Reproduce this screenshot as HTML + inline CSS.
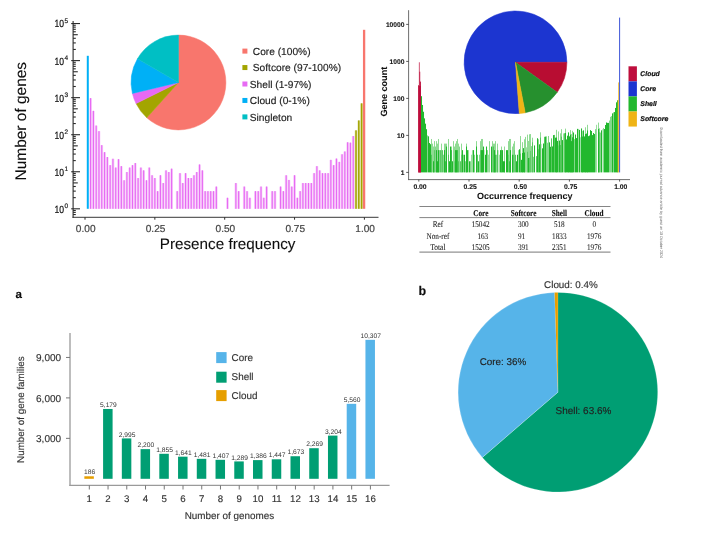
<!DOCTYPE html>
<html lang="en">
<head>
<meta charset="utf-8">
<title>Pan-genome gene frequency figures</title>
<style>
html,body{margin:0;padding:0;background:#fff;}
body{width:714px;height:535px;overflow:hidden;}
svg{display:block;font-family:'Liberation Sans', sans-serif;text-rendering:geometricPrecision;}
</style>
</head>
<body>
<svg width="714" height="535" viewBox="0 0 714 535">
<defs>
<filter id="b2" x="-5%" y="-5%" width="110%" height="110%"><feGaussianBlur stdDeviation="0.35"/></filter>
<filter id="ball" x="0" y="0" width="714" height="535" filterUnits="userSpaceOnUse"><feGaussianBlur stdDeviation="0.35"/></filter>
</defs>
<rect x="0" y="0" width="714" height="535" fill="#ffffff"/>
<g filter="url(#ball)">
<g id="c1">
<rect x="86.79" y="55.8" width="2" height="153" fill="#00B0F6"/>
<rect x="89.24" y="98.3" width="2.7" height="110.5" fill="#E76BF3" opacity="0.3"/>
<rect x="89.99" y="98.1" width="1.2" height="110.7" fill="#E76BF3"/>
<rect x="92.03" y="111" width="2.7" height="97.8" fill="#E76BF3" opacity="0.3"/>
<rect x="92.78" y="110.8" width="1.2" height="98" fill="#E76BF3"/>
<rect x="94.83" y="125.7" width="2.7" height="83.1" fill="#E76BF3" opacity="0.3"/>
<rect x="95.58" y="125.5" width="1.2" height="83.3" fill="#E76BF3"/>
<rect x="97.62" y="131.3" width="2.7" height="77.5" fill="#E76BF3" opacity="0.3"/>
<rect x="98.37" y="131.1" width="1.2" height="77.7" fill="#E76BF3"/>
<rect x="100.41" y="145.3" width="2.7" height="63.5" fill="#E76BF3" opacity="0.3"/>
<rect x="101.16" y="145.1" width="1.2" height="63.7" fill="#E76BF3"/>
<rect x="103.21" y="152.3" width="2.7" height="56.5" fill="#E76BF3" opacity="0.3"/>
<rect x="103.96" y="152.1" width="1.2" height="56.7" fill="#E76BF3"/>
<rect x="106" y="157.2" width="2.7" height="51.6" fill="#E76BF3" opacity="0.3"/>
<rect x="106.75" y="157" width="1.2" height="51.8" fill="#E76BF3"/>
<rect x="108.8" y="165.3" width="2.7" height="43.5" fill="#E76BF3" opacity="0.3"/>
<rect x="109.55" y="165.1" width="1.2" height="43.7" fill="#E76BF3"/>
<rect x="111.59" y="158.9" width="2.7" height="49.9" fill="#E76BF3" opacity="0.3"/>
<rect x="112.34" y="158.7" width="1.2" height="50.1" fill="#E76BF3"/>
<rect x="114.38" y="167.7" width="2.7" height="41.1" fill="#E76BF3" opacity="0.3"/>
<rect x="115.13" y="167.5" width="1.2" height="41.3" fill="#E76BF3"/>
<rect x="117.18" y="159.3" width="2.7" height="49.5" fill="#E76BF3" opacity="0.3"/>
<rect x="117.93" y="159.1" width="1.2" height="49.7" fill="#E76BF3"/>
<rect x="119.97" y="166.3" width="2.7" height="42.5" fill="#E76BF3" opacity="0.3"/>
<rect x="120.72" y="166.1" width="1.2" height="42.7" fill="#E76BF3"/>
<rect x="122.77" y="180.4" width="2.7" height="28.4" fill="#E76BF3" opacity="0.3"/>
<rect x="123.52" y="180.2" width="1.2" height="28.6" fill="#E76BF3"/>
<rect x="125.56" y="172.2" width="2.7" height="36.6" fill="#E76BF3" opacity="0.3"/>
<rect x="126.31" y="172" width="1.2" height="36.8" fill="#E76BF3"/>
<rect x="128.35" y="167.7" width="2.7" height="41.1" fill="#E76BF3" opacity="0.3"/>
<rect x="129.1" y="167.5" width="1.2" height="41.3" fill="#E76BF3"/>
<rect x="131.15" y="165.3" width="2.7" height="43.5" fill="#E76BF3" opacity="0.3"/>
<rect x="131.9" y="165.1" width="1.2" height="43.7" fill="#E76BF3"/>
<rect x="133.94" y="163.2" width="2.7" height="45.6" fill="#E76BF3" opacity="0.3"/>
<rect x="134.69" y="163" width="1.2" height="45.8" fill="#E76BF3"/>
<rect x="136.74" y="178.2" width="2.7" height="30.6" fill="#E76BF3" opacity="0.3"/>
<rect x="137.49" y="178" width="1.2" height="30.8" fill="#E76BF3"/>
<rect x="139.53" y="167.7" width="2.7" height="41.1" fill="#E76BF3" opacity="0.3"/>
<rect x="140.28" y="167.5" width="1.2" height="41.3" fill="#E76BF3"/>
<rect x="142.32" y="170.5" width="2.7" height="38.3" fill="#E76BF3" opacity="0.3"/>
<rect x="143.07" y="170.3" width="1.2" height="38.5" fill="#E76BF3"/>
<rect x="145.12" y="180.4" width="2.7" height="28.4" fill="#E76BF3" opacity="0.3"/>
<rect x="145.87" y="180.2" width="1.2" height="28.6" fill="#E76BF3"/>
<rect x="147.91" y="167.7" width="2.7" height="41.1" fill="#E76BF3" opacity="0.3"/>
<rect x="148.66" y="167.5" width="1.2" height="41.3" fill="#E76BF3"/>
<rect x="150.71" y="175.4" width="2.7" height="33.4" fill="#E76BF3" opacity="0.3"/>
<rect x="151.46" y="175.2" width="1.2" height="33.6" fill="#E76BF3"/>
<rect x="153.5" y="178.2" width="2.7" height="30.6" fill="#E76BF3" opacity="0.3"/>
<rect x="154.25" y="178" width="1.2" height="30.8" fill="#E76BF3"/>
<rect x="156.29" y="191.3" width="2.7" height="17.5" fill="#E76BF3" opacity="0.3"/>
<rect x="157.04" y="191.1" width="1.2" height="17.7" fill="#E76BF3"/>
<rect x="159.09" y="175.4" width="2.7" height="33.4" fill="#E76BF3" opacity="0.3"/>
<rect x="159.84" y="175.2" width="1.2" height="33.6" fill="#E76BF3"/>
<rect x="161.88" y="183.2" width="2.7" height="25.6" fill="#E76BF3" opacity="0.3"/>
<rect x="162.63" y="183" width="1.2" height="25.8" fill="#E76BF3"/>
<rect x="164.68" y="170.5" width="2.7" height="38.3" fill="#E76BF3" opacity="0.3"/>
<rect x="165.43" y="170.3" width="1.2" height="38.5" fill="#E76BF3"/>
<rect x="167.47" y="172.2" width="2.7" height="36.6" fill="#E76BF3" opacity="0.3"/>
<rect x="168.22" y="172" width="1.2" height="36.8" fill="#E76BF3"/>
<rect x="170.26" y="168.8" width="2.7" height="40" fill="#E76BF3" opacity="0.3"/>
<rect x="171.01" y="168.6" width="1.2" height="40.2" fill="#E76BF3"/>
<rect x="175.85" y="191.3" width="2.7" height="17.5" fill="#E76BF3" opacity="0.3"/>
<rect x="176.6" y="191.1" width="1.2" height="17.7" fill="#E76BF3"/>
<rect x="178.65" y="173.3" width="2.7" height="35.5" fill="#E76BF3" opacity="0.3"/>
<rect x="179.4" y="173.1" width="1.2" height="35.7" fill="#E76BF3"/>
<rect x="181.44" y="183.2" width="2.7" height="25.6" fill="#E76BF3" opacity="0.3"/>
<rect x="182.19" y="183" width="1.2" height="25.8" fill="#E76BF3"/>
<rect x="184.23" y="173.3" width="2.7" height="35.5" fill="#E76BF3" opacity="0.3"/>
<rect x="184.98" y="173.1" width="1.2" height="35.7" fill="#E76BF3"/>
<rect x="187.03" y="178.2" width="2.7" height="30.6" fill="#E76BF3" opacity="0.3"/>
<rect x="187.78" y="178" width="1.2" height="30.8" fill="#E76BF3"/>
<rect x="189.82" y="178.2" width="2.7" height="30.6" fill="#E76BF3" opacity="0.3"/>
<rect x="190.57" y="178" width="1.2" height="30.8" fill="#E76BF3"/>
<rect x="192.62" y="175.4" width="2.7" height="33.4" fill="#E76BF3" opacity="0.3"/>
<rect x="193.37" y="175.2" width="1.2" height="33.6" fill="#E76BF3"/>
<rect x="195.41" y="172.2" width="2.7" height="36.6" fill="#E76BF3" opacity="0.3"/>
<rect x="196.16" y="172" width="1.2" height="36.8" fill="#E76BF3"/>
<rect x="198.2" y="164.6" width="2.7" height="44.2" fill="#E76BF3" opacity="0.3"/>
<rect x="198.95" y="164.4" width="1.2" height="44.4" fill="#E76BF3"/>
<rect x="201" y="170.5" width="2.7" height="38.3" fill="#E76BF3" opacity="0.3"/>
<rect x="201.75" y="170.3" width="1.2" height="38.5" fill="#E76BF3"/>
<rect x="203.79" y="191.3" width="2.7" height="17.5" fill="#E76BF3" opacity="0.3"/>
<rect x="204.54" y="191.1" width="1.2" height="17.7" fill="#E76BF3"/>
<rect x="206.59" y="191.3" width="2.7" height="17.5" fill="#E76BF3" opacity="0.3"/>
<rect x="207.34" y="191.1" width="1.2" height="17.7" fill="#E76BF3"/>
<rect x="209.38" y="191.3" width="2.7" height="17.5" fill="#E76BF3" opacity="0.3"/>
<rect x="210.13" y="191.1" width="1.2" height="17.7" fill="#E76BF3"/>
<rect x="212.17" y="191.3" width="2.7" height="17.5" fill="#E76BF3" opacity="0.3"/>
<rect x="212.92" y="191.1" width="1.2" height="17.7" fill="#E76BF3"/>
<rect x="214.97" y="186.7" width="2.7" height="22.1" fill="#E76BF3" opacity="0.3"/>
<rect x="215.72" y="186.5" width="1.2" height="22.3" fill="#E76BF3"/>
<rect x="226.14" y="197.9" width="2.7" height="10.9" fill="#E76BF3" opacity="0.3"/>
<rect x="226.89" y="197.7" width="1.2" height="11.1" fill="#E76BF3"/>
<rect x="234.53" y="183.2" width="2.7" height="25.6" fill="#E76BF3" opacity="0.3"/>
<rect x="235.28" y="183" width="1.2" height="25.8" fill="#E76BF3"/>
<rect x="237.32" y="191.3" width="2.7" height="17.5" fill="#E76BF3" opacity="0.3"/>
<rect x="238.07" y="191.1" width="1.2" height="17.7" fill="#E76BF3"/>
<rect x="242.91" y="186.7" width="2.7" height="22.1" fill="#E76BF3" opacity="0.3"/>
<rect x="243.66" y="186.5" width="1.2" height="22.3" fill="#E76BF3"/>
<rect x="245.7" y="191.3" width="2.7" height="17.5" fill="#E76BF3" opacity="0.3"/>
<rect x="246.45" y="191.1" width="1.2" height="17.7" fill="#E76BF3"/>
<rect x="248.5" y="197.9" width="2.7" height="10.9" fill="#E76BF3" opacity="0.3"/>
<rect x="249.25" y="197.7" width="1.2" height="11.1" fill="#E76BF3"/>
<rect x="254.08" y="191.3" width="2.7" height="17.5" fill="#E76BF3" opacity="0.3"/>
<rect x="254.83" y="191.1" width="1.2" height="17.7" fill="#E76BF3"/>
<rect x="256.88" y="191.3" width="2.7" height="17.5" fill="#E76BF3" opacity="0.3"/>
<rect x="257.63" y="191.1" width="1.2" height="17.7" fill="#E76BF3"/>
<rect x="259.67" y="186.7" width="2.7" height="22.1" fill="#E76BF3" opacity="0.3"/>
<rect x="260.42" y="186.5" width="1.2" height="22.3" fill="#E76BF3"/>
<rect x="262.47" y="197.9" width="2.7" height="10.9" fill="#E76BF3" opacity="0.3"/>
<rect x="263.22" y="197.7" width="1.2" height="11.1" fill="#E76BF3"/>
<rect x="265.26" y="186.7" width="2.7" height="22.1" fill="#E76BF3" opacity="0.3"/>
<rect x="266.01" y="186.5" width="1.2" height="22.3" fill="#E76BF3"/>
<rect x="270.85" y="191.3" width="2.7" height="17.5" fill="#E76BF3" opacity="0.3"/>
<rect x="271.6" y="191.1" width="1.2" height="17.7" fill="#E76BF3"/>
<rect x="273.64" y="191.3" width="2.7" height="17.5" fill="#E76BF3" opacity="0.3"/>
<rect x="274.39" y="191.1" width="1.2" height="17.7" fill="#E76BF3"/>
<rect x="279.23" y="186.7" width="2.7" height="22.1" fill="#E76BF3" opacity="0.3"/>
<rect x="279.98" y="186.5" width="1.2" height="22.3" fill="#E76BF3"/>
<rect x="282.02" y="191.3" width="2.7" height="17.5" fill="#E76BF3" opacity="0.3"/>
<rect x="282.77" y="191.1" width="1.2" height="17.7" fill="#E76BF3"/>
<rect x="284.82" y="175.4" width="2.7" height="33.4" fill="#E76BF3" opacity="0.3"/>
<rect x="285.57" y="175.2" width="1.2" height="33.6" fill="#E76BF3"/>
<rect x="287.61" y="180.1" width="2.7" height="28.7" fill="#E76BF3" opacity="0.3"/>
<rect x="288.36" y="179.9" width="1.2" height="28.9" fill="#E76BF3"/>
<rect x="290.41" y="186.7" width="2.7" height="22.1" fill="#E76BF3" opacity="0.3"/>
<rect x="291.16" y="186.5" width="1.2" height="22.3" fill="#E76BF3"/>
<rect x="293.2" y="175.4" width="2.7" height="33.4" fill="#E76BF3" opacity="0.3"/>
<rect x="293.95" y="175.2" width="1.2" height="33.6" fill="#E76BF3"/>
<rect x="295.99" y="197.9" width="2.7" height="10.9" fill="#E76BF3" opacity="0.3"/>
<rect x="296.74" y="197.7" width="1.2" height="11.1" fill="#E76BF3"/>
<rect x="298.79" y="191.3" width="2.7" height="17.5" fill="#E76BF3" opacity="0.3"/>
<rect x="299.54" y="191.1" width="1.2" height="17.7" fill="#E76BF3"/>
<rect x="301.58" y="183.2" width="2.7" height="25.6" fill="#E76BF3" opacity="0.3"/>
<rect x="302.33" y="183" width="1.2" height="25.8" fill="#E76BF3"/>
<rect x="304.38" y="183.2" width="2.7" height="25.6" fill="#E76BF3" opacity="0.3"/>
<rect x="305.13" y="183" width="1.2" height="25.8" fill="#E76BF3"/>
<rect x="307.17" y="183.2" width="2.7" height="25.6" fill="#E76BF3" opacity="0.3"/>
<rect x="307.92" y="183" width="1.2" height="25.8" fill="#E76BF3"/>
<rect x="309.96" y="183.2" width="2.7" height="25.6" fill="#E76BF3" opacity="0.3"/>
<rect x="310.71" y="183" width="1.2" height="25.8" fill="#E76BF3"/>
<rect x="312.76" y="173.3" width="2.7" height="35.5" fill="#E76BF3" opacity="0.3"/>
<rect x="313.51" y="173.1" width="1.2" height="35.7" fill="#E76BF3"/>
<rect x="315.55" y="166.3" width="2.7" height="42.5" fill="#E76BF3" opacity="0.3"/>
<rect x="316.3" y="166.1" width="1.2" height="42.7" fill="#E76BF3"/>
<rect x="318.35" y="170.5" width="2.7" height="38.3" fill="#E76BF3" opacity="0.3"/>
<rect x="319.1" y="170.3" width="1.2" height="38.5" fill="#E76BF3"/>
<rect x="321.14" y="173.3" width="2.7" height="35.5" fill="#E76BF3" opacity="0.3"/>
<rect x="321.89" y="173.1" width="1.2" height="35.7" fill="#E76BF3"/>
<rect x="323.93" y="173.3" width="2.7" height="35.5" fill="#E76BF3" opacity="0.3"/>
<rect x="324.68" y="173.1" width="1.2" height="35.7" fill="#E76BF3"/>
<rect x="326.73" y="173.3" width="2.7" height="35.5" fill="#E76BF3" opacity="0.3"/>
<rect x="327.48" y="173.1" width="1.2" height="35.7" fill="#E76BF3"/>
<rect x="329.52" y="160" width="2.7" height="48.8" fill="#E76BF3" opacity="0.3"/>
<rect x="330.27" y="159.8" width="1.2" height="49" fill="#E76BF3"/>
<rect x="332.32" y="165.3" width="2.7" height="43.5" fill="#E76BF3" opacity="0.3"/>
<rect x="333.07" y="165.1" width="1.2" height="43.7" fill="#E76BF3"/>
<rect x="335.11" y="158.7" width="2.7" height="50.1" fill="#E76BF3" opacity="0.3"/>
<rect x="335.86" y="158.5" width="1.2" height="50.3" fill="#E76BF3"/>
<rect x="337.9" y="162" width="2.7" height="46.8" fill="#E76BF3" opacity="0.3"/>
<rect x="338.65" y="161.8" width="1.2" height="47" fill="#E76BF3"/>
<rect x="340.7" y="154.4" width="2.7" height="54.4" fill="#E76BF3" opacity="0.3"/>
<rect x="341.45" y="154.2" width="1.2" height="54.6" fill="#E76BF3"/>
<rect x="343.49" y="151.6" width="2.7" height="57.2" fill="#E76BF3" opacity="0.3"/>
<rect x="344.24" y="151.4" width="1.2" height="57.4" fill="#E76BF3"/>
<rect x="346.29" y="142.4" width="2.7" height="66.4" fill="#E76BF3" opacity="0.3"/>
<rect x="347.04" y="142.2" width="1.2" height="66.6" fill="#E76BF3"/>
<rect x="349.08" y="142.8" width="2.7" height="66" fill="#E76BF3" opacity="0.3"/>
<rect x="349.83" y="142.6" width="1.2" height="66.2" fill="#E76BF3"/>
<rect x="351.87" y="136.2" width="2.7" height="72.6" fill="#E76BF3" opacity="0.3"/>
<rect x="352.62" y="136" width="1.2" height="72.8" fill="#E76BF3"/>
<rect x="354.67" y="130.5" width="2.7" height="78.3" fill="#A3A500" opacity="0.3"/>
<rect x="355.27" y="130.3" width="1.5" height="78.5" fill="#A3A500"/>
<rect x="357.46" y="120.6" width="2.7" height="88.2" fill="#A3A500" opacity="0.3"/>
<rect x="358.06" y="120.4" width="1.5" height="88.4" fill="#A3A500"/>
<rect x="360.26" y="103.5" width="2.7" height="105.3" fill="#A3A500" opacity="0.3"/>
<rect x="360.86" y="103.3" width="1.5" height="105.5" fill="#A3A500"/>
<rect x="362.95" y="29.8" width="2.3" height="179" fill="#F8766D"/>
<line x1="73.1" y1="21" x2="73.1" y2="217.8" stroke="#2b2b2b" stroke-width="1.1"/>
<line x1="72.5" y1="217.3" x2="378.5" y2="217.3" stroke="#2b2b2b" stroke-width="0.95"/>
<line x1="73.1" y1="214.54" x2="75.8" y2="214.54" stroke="#2b2b2b" stroke-width="1.1"/>
<line x1="73.1" y1="212.39" x2="75.8" y2="212.39" stroke="#2b2b2b" stroke-width="1.1"/>
<line x1="73.1" y1="210.5" x2="75.8" y2="210.5" stroke="#2b2b2b" stroke-width="1.1"/>
<line x1="71.2" y1="208.8" x2="80" y2="208.8" stroke="#2b2b2b" stroke-width="1.1"/>
<line x1="73.1" y1="197.65" x2="75.8" y2="197.65" stroke="#2b2b2b" stroke-width="1.1"/>
<line x1="73.1" y1="191.12" x2="75.8" y2="191.12" stroke="#2b2b2b" stroke-width="1.1"/>
<line x1="73.1" y1="186.49" x2="75.8" y2="186.49" stroke="#2b2b2b" stroke-width="1.1"/>
<line x1="73.1" y1="182.9" x2="77.8" y2="182.9" stroke="#2b2b2b" stroke-width="1.1"/>
<line x1="73.1" y1="179.97" x2="75.8" y2="179.97" stroke="#2b2b2b" stroke-width="1.1"/>
<line x1="73.1" y1="177.49" x2="75.8" y2="177.49" stroke="#2b2b2b" stroke-width="1.1"/>
<line x1="73.1" y1="175.34" x2="75.8" y2="175.34" stroke="#2b2b2b" stroke-width="1.1"/>
<line x1="73.1" y1="173.45" x2="75.8" y2="173.45" stroke="#2b2b2b" stroke-width="1.1"/>
<line x1="71.2" y1="171.75" x2="80" y2="171.75" stroke="#2b2b2b" stroke-width="1.1"/>
<line x1="73.1" y1="160.6" x2="75.8" y2="160.6" stroke="#2b2b2b" stroke-width="1.1"/>
<line x1="73.1" y1="154.07" x2="75.8" y2="154.07" stroke="#2b2b2b" stroke-width="1.1"/>
<line x1="73.1" y1="149.44" x2="75.8" y2="149.44" stroke="#2b2b2b" stroke-width="1.1"/>
<line x1="73.1" y1="145.85" x2="77.8" y2="145.85" stroke="#2b2b2b" stroke-width="1.1"/>
<line x1="73.1" y1="142.92" x2="75.8" y2="142.92" stroke="#2b2b2b" stroke-width="1.1"/>
<line x1="73.1" y1="140.44" x2="75.8" y2="140.44" stroke="#2b2b2b" stroke-width="1.1"/>
<line x1="73.1" y1="138.29" x2="75.8" y2="138.29" stroke="#2b2b2b" stroke-width="1.1"/>
<line x1="73.1" y1="136.4" x2="75.8" y2="136.4" stroke="#2b2b2b" stroke-width="1.1"/>
<line x1="71.2" y1="134.7" x2="80" y2="134.7" stroke="#2b2b2b" stroke-width="1.1"/>
<line x1="73.1" y1="123.55" x2="75.8" y2="123.55" stroke="#2b2b2b" stroke-width="1.1"/>
<line x1="73.1" y1="117.02" x2="75.8" y2="117.02" stroke="#2b2b2b" stroke-width="1.1"/>
<line x1="73.1" y1="112.39" x2="75.8" y2="112.39" stroke="#2b2b2b" stroke-width="1.1"/>
<line x1="73.1" y1="108.8" x2="77.8" y2="108.8" stroke="#2b2b2b" stroke-width="1.1"/>
<line x1="73.1" y1="105.87" x2="75.8" y2="105.87" stroke="#2b2b2b" stroke-width="1.1"/>
<line x1="73.1" y1="103.39" x2="75.8" y2="103.39" stroke="#2b2b2b" stroke-width="1.1"/>
<line x1="73.1" y1="101.24" x2="75.8" y2="101.24" stroke="#2b2b2b" stroke-width="1.1"/>
<line x1="73.1" y1="99.35" x2="75.8" y2="99.35" stroke="#2b2b2b" stroke-width="1.1"/>
<line x1="71.2" y1="97.65" x2="80" y2="97.65" stroke="#2b2b2b" stroke-width="1.1"/>
<line x1="73.1" y1="86.5" x2="75.8" y2="86.5" stroke="#2b2b2b" stroke-width="1.1"/>
<line x1="73.1" y1="79.97" x2="75.8" y2="79.97" stroke="#2b2b2b" stroke-width="1.1"/>
<line x1="73.1" y1="75.34" x2="75.8" y2="75.34" stroke="#2b2b2b" stroke-width="1.1"/>
<line x1="73.1" y1="71.75" x2="77.8" y2="71.75" stroke="#2b2b2b" stroke-width="1.1"/>
<line x1="73.1" y1="68.82" x2="75.8" y2="68.82" stroke="#2b2b2b" stroke-width="1.1"/>
<line x1="73.1" y1="66.34" x2="75.8" y2="66.34" stroke="#2b2b2b" stroke-width="1.1"/>
<line x1="73.1" y1="64.19" x2="75.8" y2="64.19" stroke="#2b2b2b" stroke-width="1.1"/>
<line x1="73.1" y1="62.3" x2="75.8" y2="62.3" stroke="#2b2b2b" stroke-width="1.1"/>
<line x1="71.2" y1="60.6" x2="80" y2="60.6" stroke="#2b2b2b" stroke-width="1.1"/>
<line x1="73.1" y1="49.45" x2="75.8" y2="49.45" stroke="#2b2b2b" stroke-width="1.1"/>
<line x1="73.1" y1="42.92" x2="75.8" y2="42.92" stroke="#2b2b2b" stroke-width="1.1"/>
<line x1="73.1" y1="38.29" x2="75.8" y2="38.29" stroke="#2b2b2b" stroke-width="1.1"/>
<line x1="73.1" y1="34.7" x2="77.8" y2="34.7" stroke="#2b2b2b" stroke-width="1.1"/>
<line x1="73.1" y1="31.77" x2="75.8" y2="31.77" stroke="#2b2b2b" stroke-width="1.1"/>
<line x1="73.1" y1="29.29" x2="75.8" y2="29.29" stroke="#2b2b2b" stroke-width="1.1"/>
<line x1="73.1" y1="27.14" x2="75.8" y2="27.14" stroke="#2b2b2b" stroke-width="1.1"/>
<line x1="73.1" y1="25.25" x2="75.8" y2="25.25" stroke="#2b2b2b" stroke-width="1.1"/>
<line x1="71.2" y1="23.55" x2="80" y2="23.55" stroke="#2b2b2b" stroke-width="1.1"/>
<text x="64" y="212.7" font-size="10.4" fill="#111" text-anchor="end" textLength="9.6" lengthAdjust="spacingAndGlyphs" stroke="#111" stroke-width="0.22">10</text>
<text x="64.5" y="207.8" font-size="6.5" fill="#222" stroke="#222" stroke-width="0.2">0</text>
<text x="64" y="175.65" font-size="10.4" fill="#111" text-anchor="end" textLength="9.6" lengthAdjust="spacingAndGlyphs" stroke="#111" stroke-width="0.22">10</text>
<text x="64.5" y="170.75" font-size="6.5" fill="#222" stroke="#222" stroke-width="0.2">1</text>
<text x="64" y="138.6" font-size="10.4" fill="#111" text-anchor="end" textLength="9.6" lengthAdjust="spacingAndGlyphs" stroke="#111" stroke-width="0.22">10</text>
<text x="64.5" y="133.7" font-size="6.5" fill="#222" stroke="#222" stroke-width="0.2">2</text>
<text x="64" y="101.55" font-size="10.4" fill="#111" text-anchor="end" textLength="9.6" lengthAdjust="spacingAndGlyphs" stroke="#111" stroke-width="0.22">10</text>
<text x="64.5" y="96.65" font-size="6.5" fill="#222" stroke="#222" stroke-width="0.2">3</text>
<text x="64" y="64.5" font-size="10.4" fill="#111" text-anchor="end" textLength="9.6" lengthAdjust="spacingAndGlyphs" stroke="#111" stroke-width="0.22">10</text>
<text x="64.5" y="59.6" font-size="6.5" fill="#222" stroke="#222" stroke-width="0.2">4</text>
<text x="64" y="27.45" font-size="10.4" fill="#111" text-anchor="end" textLength="9.6" lengthAdjust="spacingAndGlyphs" stroke="#111" stroke-width="0.22">10</text>
<text x="64.5" y="22.55" font-size="6.5" fill="#222" stroke="#222" stroke-width="0.2">5</text>
<line x1="85" y1="217.3" x2="85" y2="219.7" stroke="#2b2b2b" stroke-width="1"/>
<text x="85.7" y="231.9" font-size="10.1" fill="#444" text-anchor="middle" stroke="#444" stroke-width="0.2">0.00</text>
<line x1="154.85" y1="217.3" x2="154.85" y2="219.7" stroke="#2b2b2b" stroke-width="1"/>
<text x="155.55" y="231.9" font-size="10.1" fill="#444" text-anchor="middle" stroke="#444" stroke-width="0.2">0.25</text>
<line x1="224.7" y1="217.3" x2="224.7" y2="219.7" stroke="#2b2b2b" stroke-width="1"/>
<text x="225.4" y="231.9" font-size="10.1" fill="#444" text-anchor="middle" stroke="#444" stroke-width="0.2">0.50</text>
<line x1="294.55" y1="217.3" x2="294.55" y2="219.7" stroke="#2b2b2b" stroke-width="1"/>
<text x="295.25" y="231.9" font-size="10.1" fill="#444" text-anchor="middle" stroke="#444" stroke-width="0.2">0.75</text>
<line x1="364.4" y1="217.3" x2="364.4" y2="219.7" stroke="#2b2b2b" stroke-width="1"/>
<text x="365.1" y="231.9" font-size="10.1" fill="#444" text-anchor="middle" stroke="#444" stroke-width="0.2">1.00</text>
<text x="227.6" y="248.8" font-size="15.25" fill="#111" text-anchor="middle" stroke="#111" stroke-width="0.1">Presence frequency</text>
<text x="25.7" y="121.2" font-size="15.45" fill="#111" text-anchor="middle" transform="rotate(-90 25.7 121.2)" stroke="#111" stroke-width="0.1">Number of genes</text>
<path d="M178.5 82.5L178.5 35.1A47.4 47.4 0 1 1 146.78 117.73Z" fill="#F8766D" stroke="#F8766D" stroke-width="0.5" stroke-linejoin="round"/>
<path d="M178.5 82.5L146.78 117.73A47.4 47.4 0 0 1 136.04 103.58Z" fill="#A3A500" stroke="#A3A500" stroke-width="0.5" stroke-linejoin="round"/>
<path d="M178.5 82.5L136.04 103.58A47.4 47.4 0 0 1 132.39 93.48Z" fill="#E76BF3" stroke="#E76BF3" stroke-width="0.5" stroke-linejoin="round"/>
<path d="M178.5 82.5L132.39 93.48A47.4 47.4 0 0 1 137.45 58.8Z" fill="#00B0F6" stroke="#00B0F6" stroke-width="0.5" stroke-linejoin="round"/>
<path d="M178.5 82.5L137.45 58.8A47.4 47.4 0 0 1 178.5 35.1Z" fill="#00BFC4" stroke="#00BFC4" stroke-width="0.5" stroke-linejoin="round"/>
<rect x="242.4" y="48.6" width="5" height="5" fill="#F8766D"/>
<text x="252.8" y="54.8" font-size="10.2" fill="#222" stroke="#222" stroke-width="0.15">Core (100%)</text>
<rect x="242.4" y="65.05" width="5" height="5" fill="#A3A500"/>
<text x="252.8" y="71.25" font-size="10.2" fill="#222" stroke="#222" stroke-width="0.15">Softcore (97-100%)</text>
<rect x="242.4" y="81.5" width="5" height="5" fill="#E76BF3"/>
<text x="249.8" y="87.7" font-size="10.2" fill="#222" stroke="#222" stroke-width="0.15">Shell (1-97%)</text>
<rect x="242.4" y="97.95" width="5" height="5" fill="#00B0F6"/>
<text x="249.8" y="104.15" font-size="10.2" fill="#222" stroke="#222" stroke-width="0.15">Cloud (0-1%)</text>
<rect x="242.4" y="114.4" width="5" height="5" fill="#00BFC4"/>
<text x="249.8" y="120.6" font-size="10.2" fill="#222" stroke="#222" stroke-width="0.15">Singleton</text>
</g>
<g id="c2">
<g filter="url(#b2)">
<rect x="421" y="96.2" width="1.02" height="76.2" fill="#22B82E"/>
<rect x="422" y="104.97" width="1.02" height="67.43" fill="#22B82E"/>
<rect x="423" y="111.74" width="1.02" height="60.66" fill="#22B82E"/>
<rect x="424" y="118.36" width="1.02" height="54.04" fill="#22B82E"/>
<rect x="425" y="123.67" width="1.02" height="48.73" fill="#22B82E"/>
<rect x="426" y="129.19" width="1.02" height="43.21" fill="#22B82E"/>
<rect x="427" y="135.39" width="0.55" height="37.01" fill="#22B82E"/>
<rect x="428" y="136.31" width="1.02" height="36.09" fill="#22B82E"/>
<rect x="429" y="143.01" width="1.02" height="29.39" fill="#22B82E"/>
<rect x="430" y="144.2" width="1.02" height="28.2" fill="#22B82E"/>
<rect x="431" y="138.99" width="1" height="33.41" fill="#22B82E" opacity="0.5"/>
<rect x="431" y="154.75" width="0.55" height="17.65" fill="#22B82E"/>
<rect x="432" y="143.61" width="1" height="28.79" fill="#22B82E" opacity="0.5"/>
<rect x="433" y="146.54" width="1" height="25.86" fill="#22B82E" opacity="0.5"/>
<rect x="433" y="161.26" width="1.02" height="11.14" fill="#22B82E"/>
<rect x="434" y="141.13" width="1" height="31.27" fill="#22B82E" opacity="0.5"/>
<rect x="434" y="150.12" width="1.02" height="22.28" fill="#22B82E" opacity="0.45"/>
<rect x="435" y="146.54" width="0.55" height="25.86" fill="#22B82E"/>
<rect x="436" y="141.13" width="1" height="31.27" fill="#22B82E" opacity="0.5"/>
<rect x="436" y="150.12" width="1.02" height="22.28" fill="#22B82E"/>
<rect x="437" y="143.61" width="1" height="28.79" fill="#22B82E" opacity="0.5"/>
<rect x="437" y="161.26" width="1.02" height="11.14" fill="#22B82E"/>
<rect x="438" y="138.99" width="1" height="33.41" fill="#22B82E" opacity="0.5"/>
<rect x="438" y="150.12" width="1.02" height="22.28" fill="#22B82E"/>
<rect x="439" y="150.12" width="0.55" height="22.28" fill="#22B82E"/>
<rect x="440" y="150.12" width="1.02" height="22.28" fill="#22B82E" opacity="0.75"/>
<rect x="441" y="143.61" width="1" height="28.79" fill="#22B82E" opacity="0.5"/>
<rect x="441" y="150.12" width="0.55" height="22.28" fill="#22B82E" opacity="0.45"/>
<rect x="442" y="150.12" width="1.02" height="22.28" fill="#22B82E" opacity="0.75"/>
<rect x="443" y="154.75" width="0.55" height="17.65" fill="#22B82E"/>
<rect x="444" y="143.61" width="1" height="28.79" fill="#22B82E" opacity="0.5"/>
<rect x="444" y="150.12" width="1.02" height="22.28" fill="#22B82E"/>
<rect x="445" y="143.61" width="1" height="28.79" fill="#22B82E" opacity="0.5"/>
<rect x="445" y="161.26" width="1.02" height="11.14" fill="#22B82E" opacity="0.75"/>
<rect x="446" y="143.61" width="1" height="28.79" fill="#22B82E" opacity="0.5"/>
<rect x="446" y="146.54" width="1.02" height="25.86" fill="#22B82E"/>
<rect x="448" y="138.99" width="1" height="33.41" fill="#22B82E" opacity="0.5"/>
<rect x="448" y="154.75" width="0.55" height="17.65" fill="#22B82E"/>
<rect x="449" y="161.26" width="1.02" height="11.14" fill="#22B82E"/>
<rect x="450" y="146.54" width="1.02" height="25.86" fill="#22B82E"/>
<rect x="451" y="146.54" width="1" height="25.86" fill="#22B82E" opacity="0.5"/>
<rect x="451" y="150.12" width="1.02" height="22.28" fill="#22B82E" opacity="0.75"/>
<rect x="452" y="161.26" width="1.02" height="11.14" fill="#22B82E"/>
<rect x="453" y="141.13" width="1" height="31.27" fill="#22B82E" opacity="0.5"/>
<rect x="454" y="146.54" width="1" height="25.86" fill="#22B82E" opacity="0.5"/>
<rect x="454" y="161.26" width="0.55" height="11.14" fill="#22B82E" opacity="0.45"/>
<rect x="455" y="143.61" width="1" height="28.79" fill="#22B82E" opacity="0.5"/>
<rect x="455" y="150.12" width="1.02" height="22.28" fill="#22B82E"/>
<rect x="456" y="141.13" width="1" height="31.27" fill="#22B82E" opacity="0.5"/>
<rect x="456" y="150.12" width="1.02" height="22.28" fill="#22B82E"/>
<rect x="457" y="138.99" width="1" height="33.41" fill="#22B82E" opacity="0.5"/>
<rect x="457" y="150.12" width="1.02" height="22.28" fill="#22B82E" opacity="0.75"/>
<rect x="458" y="143.61" width="1" height="28.79" fill="#22B82E" opacity="0.5"/>
<rect x="458" y="161.26" width="0.55" height="11.14" fill="#22B82E"/>
<rect x="459" y="146.54" width="0.55" height="25.86" fill="#22B82E"/>
<rect x="460" y="161.26" width="1.02" height="11.14" fill="#22B82E" opacity="0.75"/>
<rect x="461" y="143.61" width="1" height="28.79" fill="#22B82E" opacity="0.5"/>
<rect x="461" y="154.75" width="0.55" height="17.65" fill="#22B82E" opacity="0.75"/>
<rect x="462" y="150.12" width="1.02" height="22.28" fill="#22B82E"/>
<rect x="463" y="154.75" width="0.55" height="17.65" fill="#22B82E"/>
<rect x="464" y="154.75" width="1.02" height="17.65" fill="#22B82E"/>
<rect x="465" y="161.26" width="0.55" height="11.14" fill="#22B82E"/>
<rect x="466" y="143.61" width="1" height="28.79" fill="#22B82E" opacity="0.5"/>
<rect x="466" y="146.54" width="1.02" height="25.86" fill="#22B82E"/>
<rect x="467" y="150.12" width="1.02" height="22.28" fill="#22B82E"/>
<rect x="468" y="150.12" width="1.02" height="22.28" fill="#22B82E" opacity="0.45"/>
<rect x="469" y="161.26" width="1.02" height="11.14" fill="#22B82E"/>
<rect x="470" y="161.26" width="0.55" height="11.14" fill="#22B82E"/>
<rect x="471" y="154.75" width="1.02" height="17.65" fill="#22B82E" opacity="0.45"/>
<rect x="472" y="150.12" width="1.02" height="22.28" fill="#22B82E" opacity="0.45"/>
<rect x="473" y="150.12" width="1.02" height="22.28" fill="#22B82E"/>
<rect x="474" y="154.75" width="0.55" height="17.65" fill="#22B82E"/>
<rect x="476" y="141.13" width="1" height="31.27" fill="#22B82E" opacity="0.5"/>
<rect x="476" y="146.54" width="1.02" height="25.86" fill="#22B82E"/>
<rect x="477" y="154.75" width="1.02" height="17.65" fill="#22B82E" opacity="0.75"/>
<rect x="478" y="161.26" width="1.02" height="11.14" fill="#22B82E"/>
<rect x="479" y="154.75" width="0.55" height="17.65" fill="#22B82E"/>
<rect x="480" y="141.13" width="1" height="31.27" fill="#22B82E" opacity="0.5"/>
<rect x="480" y="150.12" width="1.02" height="22.28" fill="#22B82E" opacity="0.45"/>
<rect x="481" y="138.99" width="1" height="33.41" fill="#22B82E" opacity="0.5"/>
<rect x="481" y="150.12" width="1.02" height="22.28" fill="#22B82E"/>
<rect x="482" y="138.99" width="1" height="33.41" fill="#22B82E" opacity="0.5"/>
<rect x="482" y="150.12" width="1.02" height="22.28" fill="#22B82E"/>
<rect x="483" y="146.54" width="1.02" height="25.86" fill="#22B82E"/>
<rect x="484" y="150.12" width="0.55" height="22.28" fill="#22B82E" opacity="0.45"/>
<rect x="485" y="154.75" width="1.02" height="17.65" fill="#22B82E"/>
<rect x="486" y="146.54" width="1.02" height="25.86" fill="#22B82E"/>
<rect x="487" y="150.12" width="0.55" height="22.28" fill="#22B82E"/>
<rect x="488" y="154.75" width="1.02" height="17.65" fill="#22B82E" opacity="0.45"/>
<rect x="489" y="141.13" width="1" height="31.27" fill="#22B82E" opacity="0.5"/>
<rect x="491" y="146.54" width="1.02" height="25.86" fill="#22B82E"/>
<rect x="492" y="141.13" width="1" height="31.27" fill="#22B82E" opacity="0.5"/>
<rect x="492" y="146.54" width="0.55" height="25.86" fill="#22B82E" opacity="0.45"/>
<rect x="493" y="143.61" width="1" height="28.79" fill="#22B82E" opacity="0.5"/>
<rect x="493" y="146.54" width="0.55" height="25.86" fill="#22B82E"/>
<rect x="494" y="143.61" width="1" height="28.79" fill="#22B82E" opacity="0.5"/>
<rect x="494" y="150.12" width="1.02" height="22.28" fill="#22B82E"/>
<rect x="495" y="141.13" width="1" height="31.27" fill="#22B82E" opacity="0.5"/>
<rect x="495" y="154.75" width="1.02" height="17.65" fill="#22B82E" opacity="0.75"/>
<rect x="496" y="154.75" width="0.55" height="17.65" fill="#22B82E"/>
<rect x="497" y="143.61" width="1" height="28.79" fill="#22B82E" opacity="0.5"/>
<rect x="497" y="150.12" width="0.55" height="22.28" fill="#22B82E"/>
<rect x="498" y="150.12" width="0.55" height="22.28" fill="#22B82E" opacity="0.45"/>
<rect x="499" y="154.75" width="1.02" height="17.65" fill="#22B82E" opacity="0.45"/>
<rect x="500" y="150.12" width="1.02" height="22.28" fill="#22B82E"/>
<rect x="501" y="146.54" width="1" height="25.86" fill="#22B82E" opacity="0.5"/>
<rect x="501" y="150.12" width="1.02" height="22.28" fill="#22B82E" opacity="0.75"/>
<rect x="502" y="150.12" width="1.02" height="22.28" fill="#22B82E"/>
<rect x="503" y="161.26" width="1.02" height="11.14" fill="#22B82E"/>
<rect x="504" y="146.54" width="1" height="25.86" fill="#22B82E" opacity="0.5"/>
<rect x="504" y="161.26" width="1.02" height="11.14" fill="#22B82E"/>
<rect x="506" y="150.12" width="1.02" height="22.28" fill="#22B82E"/>
<rect x="507" y="150.12" width="1.02" height="22.28" fill="#22B82E"/>
<rect x="508" y="141.13" width="1" height="31.27" fill="#22B82E" opacity="0.5"/>
<rect x="508" y="154.75" width="0.55" height="17.65" fill="#22B82E" opacity="0.45"/>
<rect x="509" y="138.99" width="1" height="33.41" fill="#22B82E" opacity="0.5"/>
<rect x="509" y="161.26" width="1.02" height="11.14" fill="#22B82E" opacity="0.75"/>
<rect x="510" y="138.99" width="1" height="33.41" fill="#22B82E" opacity="0.5"/>
<rect x="510" y="150.12" width="1.02" height="22.28" fill="#22B82E"/>
<rect x="512" y="146.54" width="1" height="25.86" fill="#22B82E" opacity="0.5"/>
<rect x="512" y="154.75" width="1.02" height="17.65" fill="#22B82E"/>
<rect x="513" y="143.61" width="1" height="28.79" fill="#22B82E" opacity="0.5"/>
<rect x="513" y="154.75" width="1.02" height="17.65" fill="#22B82E" opacity="0.45"/>
<rect x="514" y="141.13" width="1" height="31.27" fill="#22B82E" opacity="0.5"/>
<rect x="514" y="150.12" width="0.55" height="22.28" fill="#22B82E" opacity="0.45"/>
<rect x="515" y="154.75" width="1.02" height="17.65" fill="#22B82E" opacity="0.75"/>
<rect x="516" y="161.26" width="1.02" height="11.14" fill="#22B82E"/>
<rect x="517" y="154.75" width="1.02" height="17.65" fill="#22B82E"/>
<rect x="518" y="150.12" width="1.02" height="22.28" fill="#22B82E" opacity="0.45"/>
<rect x="519" y="149.25" width="1.02" height="23.15" fill="#22B82E"/>
<rect x="520" y="136.03" width="1" height="36.37" fill="#22B82E" opacity="0.5"/>
<rect x="520" y="153.59" width="0.55" height="18.81" fill="#22B82E"/>
<rect x="521" y="159.83" width="1.02" height="12.57" fill="#22B82E"/>
<rect x="522" y="142.14" width="1" height="30.26" fill="#22B82E" opacity="0.5"/>
<rect x="522" y="153.03" width="1.02" height="19.37" fill="#22B82E"/>
<rect x="523" y="148.14" width="1.02" height="24.26" fill="#22B82E"/>
<rect x="524" y="139.25" width="1" height="33.15" fill="#22B82E" opacity="0.5"/>
<rect x="524" y="152.5" width="1.02" height="19.9" fill="#22B82E"/>
<rect x="525" y="136.91" width="1" height="35.49" fill="#22B82E" opacity="0.5"/>
<rect x="526" y="147.35" width="1.02" height="25.05" fill="#22B82E" opacity="0.45"/>
<rect x="527" y="134.63" width="1" height="37.77" fill="#22B82E" opacity="0.5"/>
<rect x="527" y="151.72" width="1.02" height="20.68" fill="#22B82E" opacity="0.45"/>
<rect x="528" y="140.95" width="1" height="31.45" fill="#22B82E" opacity="0.5"/>
<rect x="528" y="157.99" width="1.02" height="14.41" fill="#22B82E"/>
<rect x="529" y="134.25" width="1" height="38.15" fill="#22B82E" opacity="0.5"/>
<rect x="529" y="157.74" width="1.02" height="14.66" fill="#22B82E" opacity="0.45"/>
<rect x="530" y="134.06" width="1" height="38.34" fill="#22B82E" opacity="0.5"/>
<rect x="530" y="150.98" width="0.55" height="21.42" fill="#22B82E" opacity="0.75"/>
<rect x="531" y="146.12" width="0.55" height="26.28" fill="#22B82E"/>
<rect x="532" y="137.73" width="1" height="34.67" fill="#22B82E" opacity="0.5"/>
<rect x="532" y="142.3" width="0.55" height="30.1" fill="#22B82E"/>
<rect x="533" y="156.79" width="0.55" height="15.61" fill="#22B82E"/>
<rect x="534" y="145.43" width="1.02" height="26.97" fill="#22B82E"/>
<rect x="536" y="156.12" width="1.02" height="16.28" fill="#22B82E" opacity="0.75"/>
<rect x="537" y="138.24" width="1.02" height="34.16" fill="#22B82E"/>
<rect x="538" y="139.16" width="1" height="33.24" fill="#22B82E" opacity="0.5"/>
<rect x="538" y="149.17" width="0.55" height="23.23" fill="#22B82E"/>
<rect x="539" y="144.33" width="1.02" height="28.07" fill="#22B82E"/>
<rect x="540" y="132.31" width="1" height="40.09" fill="#22B82E" opacity="0.5"/>
<rect x="540" y="137.6" width="0.55" height="34.8" fill="#22B82E"/>
<rect x="541" y="143.91" width="0.55" height="28.49" fill="#22B82E" opacity="0.45"/>
<rect x="542" y="148.33" width="1.02" height="24.07" fill="#22B82E"/>
<rect x="543" y="143.5" width="1.02" height="28.9" fill="#22B82E"/>
<rect x="544" y="136.79" width="1.02" height="35.61" fill="#22B82E" opacity="0.75"/>
<rect x="545" y="136.59" width="1.02" height="35.81" fill="#22B82E"/>
<rect x="546" y="136.39" width="0.55" height="36.01" fill="#22B82E"/>
<rect x="547" y="142.72" width="0.55" height="29.68" fill="#22B82E"/>
<rect x="548" y="136.01" width="0.55" height="36.39" fill="#22B82E"/>
<rect x="549" y="142.34" width="1.02" height="30.06" fill="#22B82E"/>
<rect x="550" y="146.77" width="1.02" height="25.63" fill="#22B82E"/>
<rect x="551" y="138.38" width="1.02" height="34.02" fill="#22B82E" opacity="0.75"/>
<rect x="552" y="146.41" width="1.02" height="25.99" fill="#22B82E"/>
<rect x="553" y="135.09" width="1.02" height="37.31" fill="#22B82E"/>
<rect x="554" y="134.91" width="1.02" height="37.49" fill="#22B82E" opacity="0.75"/>
<rect x="555" y="137.67" width="1.02" height="34.73" fill="#22B82E"/>
<rect x="556" y="129.84" width="1" height="42.56" fill="#22B82E" opacity="0.5"/>
<rect x="556" y="137.49" width="1.02" height="34.91" fill="#22B82E"/>
<rect x="557" y="140.91" width="1.02" height="31.49" fill="#22B82E"/>
<rect x="558" y="131.45" width="1" height="40.95" fill="#22B82E" opacity="0.5"/>
<rect x="558" y="145.36" width="0.55" height="27.04" fill="#22B82E" opacity="0.45"/>
<rect x="559" y="140.57" width="1.02" height="31.83" fill="#22B82E"/>
<rect x="560" y="133.32" width="1" height="39.08" fill="#22B82E" opacity="0.5"/>
<rect x="560" y="145.02" width="0.55" height="27.38" fill="#22B82E"/>
<rect x="561" y="129.15" width="1" height="43.25" fill="#22B82E" opacity="0.5"/>
<rect x="561" y="136.65" width="0.55" height="35.75" fill="#22B82E"/>
<rect x="562" y="140.07" width="1.02" height="32.33" fill="#22B82E"/>
<rect x="563" y="133.39" width="1.02" height="39.01" fill="#22B82E" opacity="0.45"/>
<rect x="564" y="133.23" width="1.02" height="39.17" fill="#22B82E" opacity="0.75"/>
<rect x="565" y="128.61" width="1" height="43.79" fill="#22B82E" opacity="0.5"/>
<rect x="565" y="133.07" width="1.02" height="39.33" fill="#22B82E"/>
<rect x="566" y="139.43" width="1.02" height="32.97" fill="#22B82E"/>
<rect x="567" y="135.69" width="1.02" height="36.71" fill="#22B82E"/>
<rect x="568" y="132.25" width="1" height="40.15" fill="#22B82E" opacity="0.5"/>
<rect x="568" y="132.61" width="1.02" height="39.79" fill="#22B82E"/>
<rect x="569" y="136.33" width="1.02" height="36.07" fill="#22B82E"/>
<rect x="570" y="130.08" width="1" height="42.32" fill="#22B82E" opacity="0.5"/>
<rect x="570" y="134.64" width="1.02" height="37.76" fill="#22B82E"/>
<rect x="571" y="134.09" width="1" height="38.31" fill="#22B82E" opacity="0.5"/>
<rect x="571" y="141.12" width="1.02" height="31.28" fill="#22B82E"/>
<rect x="572" y="130.77" width="1" height="41.63" fill="#22B82E" opacity="0.5"/>
<rect x="572" y="137.3" width="1.02" height="35.1" fill="#22B82E"/>
<rect x="573" y="132.45" width="1.02" height="39.95" fill="#22B82E"/>
<rect x="574" y="139.14" width="0.55" height="33.26" fill="#22B82E"/>
<rect x="575" y="134.51" width="1.02" height="37.89" fill="#22B82E"/>
<rect x="576" y="138.08" width="1.02" height="34.32" fill="#22B82E"/>
<rect x="577" y="128.85" width="1.02" height="43.55" fill="#22B82E"/>
<rect x="578" y="128.92" width="1.02" height="43.48" fill="#22B82E" opacity="0.45"/>
<rect x="579" y="129.91" width="1.02" height="42.49" fill="#22B82E"/>
<rect x="580" y="137.29" width="0.55" height="35.11" fill="#22B82E" opacity="0.75"/>
<rect x="581" y="128.42" width="1.02" height="43.98" fill="#22B82E"/>
<rect x="582" y="130.82" width="1" height="41.58" fill="#22B82E" opacity="0.5"/>
<rect x="582" y="136.54" width="1.02" height="35.86" fill="#22B82E"/>
<rect x="583" y="130.38" width="1.02" height="42.02" fill="#22B82E"/>
<rect x="584" y="136.43" width="1.02" height="35.97" fill="#22B82E"/>
<rect x="585" y="127.3" width="1" height="45.1" fill="#22B82E" opacity="0.5"/>
<rect x="585" y="133.99" width="1.02" height="38.41" fill="#22B82E"/>
<rect x="586" y="133.53" width="1.02" height="38.87" fill="#22B82E"/>
<rect x="587" y="124.83" width="1" height="47.57" fill="#22B82E" opacity="0.5"/>
<rect x="587" y="130.45" width="1.02" height="41.95" fill="#22B82E"/>
<rect x="588" y="136.15" width="1.02" height="36.25" fill="#22B82E"/>
<rect x="589" y="135.54" width="1.02" height="36.86" fill="#22B82E"/>
<rect x="590" y="130.13" width="1.02" height="42.27" fill="#22B82E"/>
<rect x="591" y="130.99" width="1.02" height="41.41" fill="#22B82E"/>
<rect x="592" y="135.09" width="1.02" height="37.31" fill="#22B82E"/>
<rect x="593" y="133.07" width="1.02" height="39.33" fill="#22B82E"/>
<rect x="594" y="134.05" width="1.02" height="38.35" fill="#22B82E"/>
<rect x="595" y="129.15" width="0.55" height="43.25" fill="#22B82E"/>
<rect x="596" y="124.8" width="1.02" height="47.6" fill="#22B82E" opacity="0.45"/>
<rect x="598" y="122.58" width="1" height="49.82" fill="#22B82E" opacity="0.5"/>
<rect x="598" y="128.93" width="1.02" height="43.47" fill="#22B82E"/>
<rect x="599" y="128.31" width="1" height="44.09" fill="#22B82E" opacity="0.5"/>
<rect x="599" y="132.23" width="1.02" height="40.17" fill="#22B82E" opacity="0.45"/>
<rect x="600" y="132.56" width="0.55" height="39.84" fill="#22B82E"/>
<rect x="601" y="130.31" width="1.02" height="42.09" fill="#22B82E"/>
<rect x="602" y="129.15" width="0.55" height="43.25" fill="#22B82E" opacity="0.45"/>
<rect x="603" y="128.12" width="0.55" height="44.28" fill="#22B82E"/>
<rect x="604" y="129.03" width="1.02" height="43.37" fill="#22B82E"/>
<rect x="605" y="125.02" width="1.02" height="47.38" fill="#22B82E"/>
<rect x="606" y="122.47" width="1.02" height="49.93" fill="#22B82E"/>
<rect x="607" y="122.89" width="1.02" height="49.51" fill="#22B82E"/>
<rect x="608" y="122.91" width="1.02" height="49.49" fill="#22B82E"/>
<rect x="609" y="120.55" width="0.55" height="51.85" fill="#22B82E"/>
<rect x="610" y="116.84" width="0.55" height="55.56" fill="#22B82E"/>
<rect x="611" y="116.12" width="0.55" height="56.28" fill="#22B82E"/>
<rect x="612" y="113.37" width="1.02" height="59.03" fill="#22B82E"/>
<rect x="613" y="112.36" width="0.55" height="60.04" fill="#22B82E"/>
<rect x="614" y="112.07" width="1.02" height="60.33" fill="#22B82E"/>
<rect x="615" y="107.94" width="1.02" height="64.46" fill="#22B82E"/>
<rect x="616" y="102.31" width="1.02" height="70.09" fill="#22B82E"/>
<rect x="617" y="100.3" width="1.02" height="72.1" fill="#22B82E"/>
</g>
<rect x="418.3" y="85" width="0.8" height="87.4" fill="#BE0F3C"/>
<rect x="418.9" y="62.3" width="0.7" height="110.1" fill="#BE0F3C"/>
<rect x="419.4" y="71.7" width="0.8" height="100.7" fill="#BE0F3C"/>
<rect x="420.1" y="81.6" width="0.9" height="90.8" fill="#BE0F3C"/>
<rect x="418.3" y="86" width="2.7" height="86.4" fill="#BE0F3C"/>
<rect x="617.7" y="100" width="0.7" height="72.4" fill="#EFB414"/>
<rect x="618.3" y="82.4" width="0.8" height="90" fill="#EFB414"/>
<rect x="619.1" y="17.6" width="1" height="154.8" fill="#3F55D8"/>
<line x1="408.6" y1="10.2" x2="408.6" y2="180.05" stroke="#5e5e5e" stroke-width="0.9"/>
<line x1="408.15" y1="179.6" x2="630" y2="179.6" stroke="#5e5e5e" stroke-width="0.9"/>
<line x1="406.2" y1="172.4" x2="408.6" y2="172.4" stroke="#333" stroke-width="0.8"/>
<text x="404.5" y="174.5" font-size="6.7" fill="#1a1a1a" text-anchor="end" font-weight="bold" stroke="#1a1a1a" stroke-width="0.12">1</text>
<line x1="406.2" y1="135.4" x2="408.6" y2="135.4" stroke="#333" stroke-width="0.8"/>
<text x="404.5" y="137.5" font-size="6.7" fill="#1a1a1a" text-anchor="end" font-weight="bold" stroke="#1a1a1a" stroke-width="0.12">10</text>
<line x1="406.2" y1="98.4" x2="408.6" y2="98.4" stroke="#333" stroke-width="0.8"/>
<text x="404.5" y="100.5" font-size="6.7" fill="#1a1a1a" text-anchor="end" font-weight="bold" stroke="#1a1a1a" stroke-width="0.12">100</text>
<line x1="406.2" y1="61.4" x2="408.6" y2="61.4" stroke="#333" stroke-width="0.8"/>
<text x="404.5" y="63.5" font-size="6.7" fill="#1a1a1a" text-anchor="end" font-weight="bold" stroke="#1a1a1a" stroke-width="0.12">1000</text>
<line x1="406.2" y1="24.4" x2="408.6" y2="24.4" stroke="#333" stroke-width="0.8"/>
<text x="404.5" y="26.5" font-size="6.7" fill="#1a1a1a" text-anchor="end" font-weight="bold" stroke="#1a1a1a" stroke-width="0.12">10000</text>
<line x1="418.8" y1="179.6" x2="418.8" y2="181.6" stroke="#333" stroke-width="0.8"/>
<text x="420" y="189.35" font-size="6.8" fill="#1a1a1a" text-anchor="middle" font-weight="bold" stroke="#1a1a1a" stroke-width="0.12">0.00</text>
<line x1="469" y1="179.6" x2="469" y2="181.6" stroke="#333" stroke-width="0.8"/>
<text x="470.2" y="189.35" font-size="6.8" fill="#1a1a1a" text-anchor="middle" font-weight="bold" stroke="#1a1a1a" stroke-width="0.12">0.25</text>
<line x1="519.2" y1="179.6" x2="519.2" y2="181.6" stroke="#333" stroke-width="0.8"/>
<text x="520.4" y="189.35" font-size="6.8" fill="#1a1a1a" text-anchor="middle" font-weight="bold" stroke="#1a1a1a" stroke-width="0.12">0.50</text>
<line x1="569.4" y1="179.6" x2="569.4" y2="181.6" stroke="#333" stroke-width="0.8"/>
<text x="570.6" y="189.35" font-size="6.8" fill="#1a1a1a" text-anchor="middle" font-weight="bold" stroke="#1a1a1a" stroke-width="0.12">0.75</text>
<line x1="619.6" y1="179.6" x2="619.6" y2="181.6" stroke="#333" stroke-width="0.8"/>
<text x="620.8" y="189.35" font-size="6.8" fill="#1a1a1a" text-anchor="middle" font-weight="bold" stroke="#1a1a1a" stroke-width="0.12">1.00</text>
<text x="524.8" y="198.9" font-size="9" fill="#111" text-anchor="middle" font-weight="bold" stroke="#111" stroke-width="0.05">Occurrence frequency</text>
<text x="387.4" y="91.7" font-size="9.05" fill="#111" text-anchor="middle" font-weight="bold" transform="rotate(-90 387.4 91.7)" stroke="#111" stroke-width="0.05">Gene count</text>
<path d="M515.5 62.3L519.26 113.56A51.4 51.4 0 1 1 566.9 62.3Z" fill="#1F36D0" stroke="#1F36D0" stroke-width="0.5" stroke-linejoin="round"/>
<path d="M515.5 62.3L566.9 62.3A51.4 51.4 0 0 1 557.24 92.29Z" fill="#B80A32" stroke="#B80A32" stroke-width="0.5" stroke-linejoin="round"/>
<path d="M515.5 62.3L557.24 92.29A51.4 51.4 0 0 1 525.22 112.77Z" fill="#27902F" stroke="#27902F" stroke-width="0.5" stroke-linejoin="round"/>
<path d="M515.5 62.3L525.22 112.77A51.4 51.4 0 0 1 519.26 113.56Z" fill="#EFB414" stroke="#EFB414" stroke-width="0.5" stroke-linejoin="round"/>
<rect x="628.5" y="66.3" width="8.4" height="15.1" fill="#BE0F3C"/>
<text x="640.3" y="75.7" font-size="6.9" fill="#111" font-weight="bold" font-style="italic" stroke="#111" stroke-width="0.2">Cloud</text>
<rect x="628.5" y="81.35" width="8.4" height="15.1" fill="#1F36D0"/>
<text x="640.3" y="90.9" font-size="6.9" fill="#111" font-weight="bold" font-style="italic" stroke="#111" stroke-width="0.2">Core</text>
<rect x="628.5" y="96.4" width="8.4" height="15.1" fill="#22B82E"/>
<text x="640.3" y="106.1" font-size="6.9" fill="#111" font-weight="bold" font-style="italic" stroke="#111" stroke-width="0.2">Shell</text>
<rect x="628.5" y="111.45" width="8.4" height="15.1" fill="#EFB414"/>
<text x="640.3" y="121.3" font-size="6.9" fill="#111" font-weight="bold" font-style="italic" stroke="#111" stroke-width="0.2">Softcore</text>
<line x1="419.4" y1="206.5" x2="610.5" y2="206.5" stroke="#777" stroke-width="0.9"/>
<line x1="419.4" y1="217.6" x2="610.5" y2="217.6" stroke="#777" stroke-width="0.9"/>
<line x1="419.4" y1="252.1" x2="610.5" y2="252.1" stroke="#777" stroke-width="1"/>
<text x="480.8" y="215.9" font-size="8.8" fill="#111" text-anchor="middle" font-weight="bold" font-family="'Liberation Serif', serif" textLength="15.23" lengthAdjust="spacingAndGlyphs" stroke="#111" stroke-width="0.12">Core</text>
<text x="523.6" y="215.9" font-size="8.8" fill="#111" text-anchor="middle" font-weight="bold" font-family="'Liberation Serif', serif" textLength="25.65" lengthAdjust="spacingAndGlyphs" stroke="#111" stroke-width="0.12">Softcore</text>
<text x="559.4" y="215.9" font-size="8.8" fill="#111" text-anchor="middle" font-weight="bold" font-family="'Liberation Serif', serif" textLength="15.24" lengthAdjust="spacingAndGlyphs" stroke="#111" stroke-width="0.12">Shell</text>
<text x="594" y="215.9" font-size="8.8" fill="#111" text-anchor="middle" font-weight="bold" font-family="'Liberation Serif', serif" textLength="18.85" lengthAdjust="spacingAndGlyphs" stroke="#111" stroke-width="0.12">Cloud</text>
<text x="437.9" y="226.9" font-size="8.8" fill="#222" text-anchor="middle" font-family="'Liberation Serif', serif" textLength="10.42" lengthAdjust="spacingAndGlyphs" stroke="#222" stroke-width="0.08">Ref</text>
<text x="489.7" y="226.9" font-size="8.8" fill="#222" text-anchor="end" font-family="'Liberation Serif', serif" textLength="18.04" lengthAdjust="spacingAndGlyphs" stroke="#222" stroke-width="0.08">15042</text>
<text x="517.9" y="226.9" font-size="8.8" fill="#222" font-family="'Liberation Serif', serif" textLength="10.82" lengthAdjust="spacingAndGlyphs" stroke="#222" stroke-width="0.08">300</text>
<text x="559.3" y="226.9" font-size="8.8" fill="#222" text-anchor="middle" font-family="'Liberation Serif', serif" textLength="10.82" lengthAdjust="spacingAndGlyphs" stroke="#222" stroke-width="0.08">518</text>
<text x="594.2" y="226.9" font-size="8.8" fill="#222" text-anchor="middle" font-family="'Liberation Serif', serif" textLength="3.61" lengthAdjust="spacingAndGlyphs" stroke="#222" stroke-width="0.08">0</text>
<text x="437.9" y="238.5" font-size="8.8" fill="#222" text-anchor="middle" font-family="'Liberation Serif', serif" textLength="22.84" lengthAdjust="spacingAndGlyphs" stroke="#222" stroke-width="0.08">Non-ref</text>
<text x="488.2" y="238.5" font-size="8.8" fill="#222" text-anchor="end" font-family="'Liberation Serif', serif" textLength="10.82" lengthAdjust="spacingAndGlyphs" stroke="#222" stroke-width="0.08">163</text>
<text x="517.9" y="238.5" font-size="8.8" fill="#222" font-family="'Liberation Serif', serif" textLength="7.22" lengthAdjust="spacingAndGlyphs" stroke="#222" stroke-width="0.08">91</text>
<text x="559.3" y="238.5" font-size="8.8" fill="#222" text-anchor="middle" font-family="'Liberation Serif', serif" textLength="14.43" lengthAdjust="spacingAndGlyphs" stroke="#222" stroke-width="0.08">1833</text>
<text x="594.2" y="238.5" font-size="8.8" fill="#222" text-anchor="middle" font-family="'Liberation Serif', serif" textLength="14.43" lengthAdjust="spacingAndGlyphs" stroke="#222" stroke-width="0.08">1976</text>
<text x="437.9" y="249.6" font-size="8.8" fill="#222" text-anchor="middle" font-family="'Liberation Serif', serif" textLength="15.23" lengthAdjust="spacingAndGlyphs" stroke="#222" stroke-width="0.08">Total</text>
<text x="489.7" y="249.6" font-size="8.8" fill="#222" text-anchor="end" font-family="'Liberation Serif', serif" textLength="18.04" lengthAdjust="spacingAndGlyphs" stroke="#222" stroke-width="0.08">15205</text>
<text x="517.9" y="249.6" font-size="8.8" fill="#222" font-family="'Liberation Serif', serif" textLength="10.82" lengthAdjust="spacingAndGlyphs" stroke="#222" stroke-width="0.08">391</text>
<text x="559.3" y="249.6" font-size="8.8" fill="#222" text-anchor="middle" font-family="'Liberation Serif', serif" textLength="14.43" lengthAdjust="spacingAndGlyphs" stroke="#222" stroke-width="0.08">2351</text>
<text x="594.2" y="249.6" font-size="8.8" fill="#222" text-anchor="middle" font-family="'Liberation Serif', serif" textLength="14.43" lengthAdjust="spacingAndGlyphs" stroke="#222" stroke-width="0.08">1976</text>
<text x="660.1" y="127.6" font-size="4" fill="#6a6a6a" textLength="130.5" lengthAdjust="spacingAndGlyphs" transform="rotate(90 660.1 127.6)">Downloaded from academic journal advance article by guest on 10 October 2024</text>
</g>
<g id="c3">
<rect x="84.35" y="476.29" width="9.5" height="2.51" fill="#E69F00"/>
<text x="89.7" y="474.39" font-size="6.7" fill="#333" text-anchor="middle">186</text>
<rect x="103.09" y="408.97" width="9.5" height="69.83" fill="#009E73"/>
<text x="108.44" y="407.07" font-size="6.7" fill="#333" text-anchor="middle">5,179</text>
<rect x="121.83" y="438.42" width="9.5" height="40.38" fill="#009E73"/>
<text x="127.18" y="436.52" font-size="6.7" fill="#333" text-anchor="middle">2,995</text>
<rect x="140.57" y="449.14" width="9.5" height="29.66" fill="#009E73"/>
<text x="145.92" y="447.24" font-size="6.7" fill="#333" text-anchor="middle">2,200</text>
<rect x="159.31" y="453.79" width="9.5" height="25.01" fill="#009E73"/>
<text x="164.66" y="451.89" font-size="6.7" fill="#333" text-anchor="middle">1,855</text>
<rect x="178.05" y="456.67" width="9.5" height="22.13" fill="#009E73"/>
<text x="183.4" y="454.77" font-size="6.7" fill="#333" text-anchor="middle">1,641</text>
<rect x="196.79" y="458.83" width="9.5" height="19.97" fill="#009E73"/>
<text x="202.14" y="456.93" font-size="6.7" fill="#333" text-anchor="middle">1,481</text>
<rect x="215.53" y="459.83" width="9.5" height="18.97" fill="#009E73"/>
<text x="220.88" y="457.93" font-size="6.7" fill="#333" text-anchor="middle">1,407</text>
<rect x="234.27" y="461.42" width="9.5" height="17.38" fill="#009E73"/>
<text x="239.62" y="459.52" font-size="6.7" fill="#333" text-anchor="middle">1,289</text>
<rect x="253.01" y="460.11" width="9.5" height="18.69" fill="#009E73"/>
<text x="258.36" y="458.21" font-size="6.7" fill="#333" text-anchor="middle">1,386</text>
<rect x="271.75" y="459.29" width="9.5" height="19.51" fill="#009E73"/>
<text x="277.1" y="457.39" font-size="6.7" fill="#333" text-anchor="middle">1,447</text>
<rect x="290.49" y="456.24" width="9.5" height="22.56" fill="#009E73"/>
<text x="295.84" y="454.34" font-size="6.7" fill="#333" text-anchor="middle">1,673</text>
<rect x="309.23" y="448.21" width="9.5" height="30.59" fill="#009E73"/>
<text x="314.58" y="446.31" font-size="6.7" fill="#333" text-anchor="middle">2,269</text>
<rect x="327.97" y="435.6" width="9.5" height="43.2" fill="#009E73"/>
<text x="333.32" y="433.7" font-size="6.7" fill="#333" text-anchor="middle">3,204</text>
<rect x="346.71" y="403.83" width="9.5" height="74.97" fill="#56B4E9"/>
<text x="352.06" y="401.93" font-size="6.7" fill="#333" text-anchor="middle">5,560</text>
<rect x="365.45" y="339.83" width="9.5" height="138.97" fill="#56B4E9"/>
<text x="370.8" y="337.93" font-size="6.7" fill="#333" text-anchor="middle">10,307</text>
<line x1="70" y1="333" x2="70" y2="485.9" stroke="#9a9a9a" stroke-width="1.3"/>
<line x1="69.4" y1="485.3" x2="389.6" y2="485.3" stroke="#9a9a9a" stroke-width="1.3"/>
<line x1="66" y1="438.35" x2="70" y2="438.35" stroke="#777" stroke-width="1"/>
<text x="61.1" y="442.15" font-size="10" fill="#333" text-anchor="end" stroke="#333" stroke-width="0.15">3,000</text>
<line x1="66" y1="397.9" x2="70" y2="397.9" stroke="#777" stroke-width="1"/>
<text x="61.1" y="401.7" font-size="10" fill="#333" text-anchor="end" stroke="#333" stroke-width="0.15">6,000</text>
<line x1="66" y1="357.45" x2="70" y2="357.45" stroke="#777" stroke-width="1"/>
<text x="61.1" y="361.25" font-size="10" fill="#333" text-anchor="end" stroke="#333" stroke-width="0.15">9,000</text>
<line x1="89.3" y1="485.3" x2="89.3" y2="489.5" stroke="#777" stroke-width="1"/>
<text x="89.3" y="502" font-size="9.7" fill="#333" text-anchor="middle" stroke="#333" stroke-width="0.15">1</text>
<line x1="108.04" y1="485.3" x2="108.04" y2="489.5" stroke="#777" stroke-width="1"/>
<text x="108.04" y="502" font-size="9.7" fill="#333" text-anchor="middle" stroke="#333" stroke-width="0.15">2</text>
<line x1="126.78" y1="485.3" x2="126.78" y2="489.5" stroke="#777" stroke-width="1"/>
<text x="126.78" y="502" font-size="9.7" fill="#333" text-anchor="middle" stroke="#333" stroke-width="0.15">3</text>
<line x1="145.52" y1="485.3" x2="145.52" y2="489.5" stroke="#777" stroke-width="1"/>
<text x="145.52" y="502" font-size="9.7" fill="#333" text-anchor="middle" stroke="#333" stroke-width="0.15">4</text>
<line x1="164.26" y1="485.3" x2="164.26" y2="489.5" stroke="#777" stroke-width="1"/>
<text x="164.26" y="502" font-size="9.7" fill="#333" text-anchor="middle" stroke="#333" stroke-width="0.15">5</text>
<line x1="183" y1="485.3" x2="183" y2="489.5" stroke="#777" stroke-width="1"/>
<text x="183" y="502" font-size="9.7" fill="#333" text-anchor="middle" stroke="#333" stroke-width="0.15">6</text>
<line x1="201.74" y1="485.3" x2="201.74" y2="489.5" stroke="#777" stroke-width="1"/>
<text x="201.74" y="502" font-size="9.7" fill="#333" text-anchor="middle" stroke="#333" stroke-width="0.15">7</text>
<line x1="220.48" y1="485.3" x2="220.48" y2="489.5" stroke="#777" stroke-width="1"/>
<text x="220.48" y="502" font-size="9.7" fill="#333" text-anchor="middle" stroke="#333" stroke-width="0.15">8</text>
<line x1="239.22" y1="485.3" x2="239.22" y2="489.5" stroke="#777" stroke-width="1"/>
<text x="239.22" y="502" font-size="9.7" fill="#333" text-anchor="middle" stroke="#333" stroke-width="0.15">9</text>
<line x1="257.96" y1="485.3" x2="257.96" y2="489.5" stroke="#777" stroke-width="1"/>
<text x="257.96" y="502" font-size="9.7" fill="#333" text-anchor="middle" stroke="#333" stroke-width="0.15">10</text>
<line x1="276.7" y1="485.3" x2="276.7" y2="489.5" stroke="#777" stroke-width="1"/>
<text x="276.7" y="502" font-size="9.7" fill="#333" text-anchor="middle" stroke="#333" stroke-width="0.15">11</text>
<line x1="295.44" y1="485.3" x2="295.44" y2="489.5" stroke="#777" stroke-width="1"/>
<text x="295.44" y="502" font-size="9.7" fill="#333" text-anchor="middle" stroke="#333" stroke-width="0.15">12</text>
<line x1="314.18" y1="485.3" x2="314.18" y2="489.5" stroke="#777" stroke-width="1"/>
<text x="314.18" y="502" font-size="9.7" fill="#333" text-anchor="middle" stroke="#333" stroke-width="0.15">13</text>
<line x1="332.92" y1="485.3" x2="332.92" y2="489.5" stroke="#777" stroke-width="1"/>
<text x="332.92" y="502" font-size="9.7" fill="#333" text-anchor="middle" stroke="#333" stroke-width="0.15">14</text>
<line x1="351.66" y1="485.3" x2="351.66" y2="489.5" stroke="#777" stroke-width="1"/>
<text x="351.66" y="502" font-size="9.7" fill="#333" text-anchor="middle" stroke="#333" stroke-width="0.15">15</text>
<line x1="370.4" y1="485.3" x2="370.4" y2="489.5" stroke="#777" stroke-width="1"/>
<text x="370.4" y="502" font-size="9.7" fill="#333" text-anchor="middle" stroke="#333" stroke-width="0.15">16</text>
<text x="229.4" y="519.4" font-size="9.9" fill="#333" text-anchor="middle" stroke="#333" stroke-width="0.15">Number of genomes</text>
<text x="24.2" y="409.6" font-size="9.85" fill="#333" text-anchor="middle" transform="rotate(-90 24.2 409.6)" stroke="#333" stroke-width="0.15">Number of gene families</text>
<rect x="216.2" y="352.1" width="10.4" height="11" fill="#56B4E9"/>
<text x="231.6" y="361.3" font-size="9.9" fill="#333" stroke="#333" stroke-width="0.15">Core</text>
<rect x="216.2" y="371.7" width="10.4" height="11" fill="#009E73"/>
<text x="231.6" y="380.3" font-size="9.9" fill="#333" stroke="#333" stroke-width="0.15">Shell</text>
<rect x="216.2" y="390.1" width="10.4" height="11" fill="#E69F00"/>
<text x="231.6" y="398.5" font-size="9.9" fill="#333" stroke="#333" stroke-width="0.15">Cloud</text>
<text x="15.6" y="298.2" font-size="11.6" fill="#111" font-weight="bold" stroke="#111" stroke-width="0.15">a</text>
</g>
<g id="c4">
<path d="M557.9 392.2L557.9 292.4A99.8 99.8 0 1 1 482.35 457.41Z" fill="#009E73" stroke="#ffffff" stroke-opacity="0.35" stroke-width="0.6"/>
<path d="M557.9 392.2L482.35 457.41A99.8 99.8 0 0 1 554.59 292.45Z" fill="#56B4E9" stroke="#ffffff" stroke-opacity="0.35" stroke-width="0.6"/>
<path d="M557.9 392.2L554.59 292.45A99.8 99.8 0 0 1 557.9 292.4Z" fill="#E69F00"/>
<text x="544.1" y="288" font-size="9.85" fill="#333" stroke="#333" stroke-width="0.15">Cloud: 0.4%</text>
<text x="479.7" y="364.9" font-size="9.85" fill="#222" stroke="#222" stroke-width="0.15">Core: 36%</text>
<text x="555.5" y="414" font-size="9.95" fill="#222" stroke="#222" stroke-width="0.15">Shell: 63.6%</text>
<text x="418.4" y="295.4" font-size="12.5" fill="#111" font-weight="bold" stroke="#111" stroke-width="0.15">b</text>
</g>
</g>
</svg>
</body>
</html>
